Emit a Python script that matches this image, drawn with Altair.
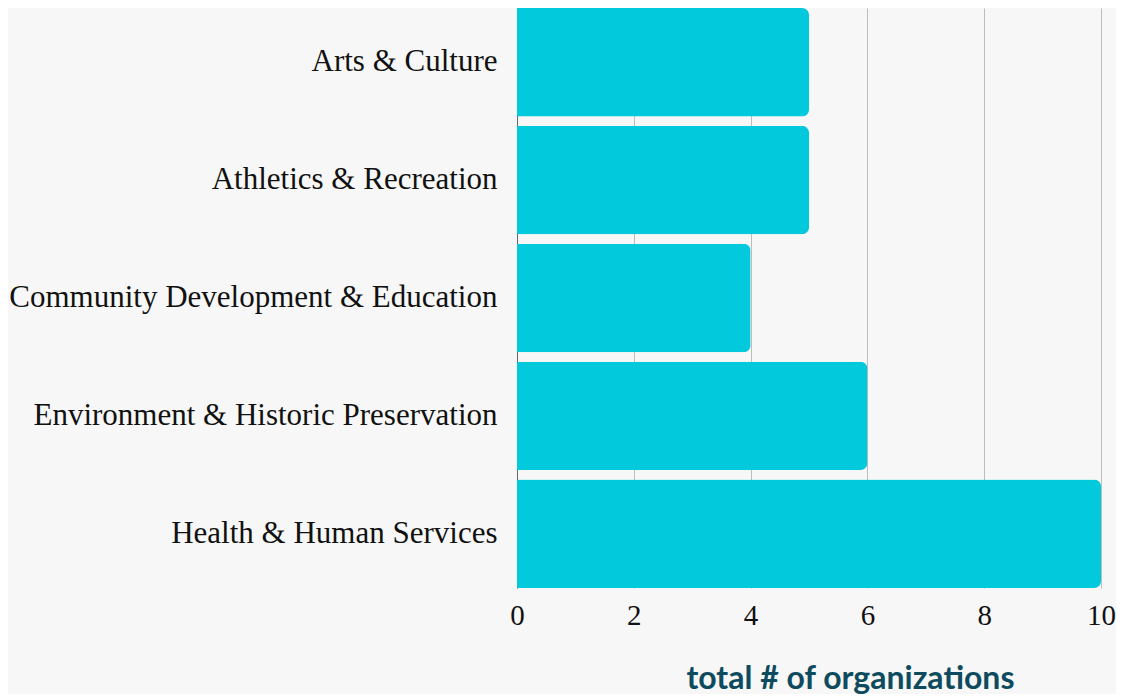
import altair as alt
import pandas as pd

categories = [
    "Arts & Culture",
    "Athletics & Recreation",
    "Community Development & Education",
    "Environment & Historic Preservation",
    "Health & Human Services",
]
counts = [5, 5, 4, 6, 10]
x_ticks = [0, 2, 4, 6, 8, 10]

df = pd.DataFrame({"category": categories, "count": counts})

chart = (
    alt.Chart(df)
    .mark_bar(color="#02c9dc", cornerRadiusEnd=7)
    .encode(
        x=alt.X(
            "count:Q",
            scale=alt.Scale(domain=[0, 10], nice=False),
            axis=alt.Axis(
                values=x_ticks,
                title="total # of organizations",
                domain=False,
                ticks=False,
                labelFont="Liberation Serif",
                labelFontSize=29,
                labelColor="#111111",
                labelPadding=13,
                labelFlush=False,
                grid=True,
                gridColor="#bdbdbd",
                gridWidth=1,
                titleFont="Lato",
                titleFontSize=32,
                titleFontWeight="bold",
                titleColor="#0e4b5e",
                titleX=333,
                titleY=100,
                titleAlign="center",
                titleBaseline="alphabetic",
            ),
        ),
        y=alt.Y(
            "category:N",
            sort=categories,
            scale=alt.Scale(paddingInner=0.08, paddingOuter=0),
            axis=alt.Axis(
                title=None,
                ticks=False,
                domain=True,
                domainColor="#666666",
                domainWidth=1,
                labelFont="Liberation Serif",
                labelFontSize=31,
                labelColor="#111111",
                labelPadding=20,
                labelLimit=600,
                minExtent=509,
                maxExtent=509,
            ),
        ),
    )
    .properties(width=584, height=580, padding=0, background="#f7f7f7")
    .configure_view(stroke=None)
)

chart.save("out.html", embed_options={"renderer": "svg", "actions": False})
